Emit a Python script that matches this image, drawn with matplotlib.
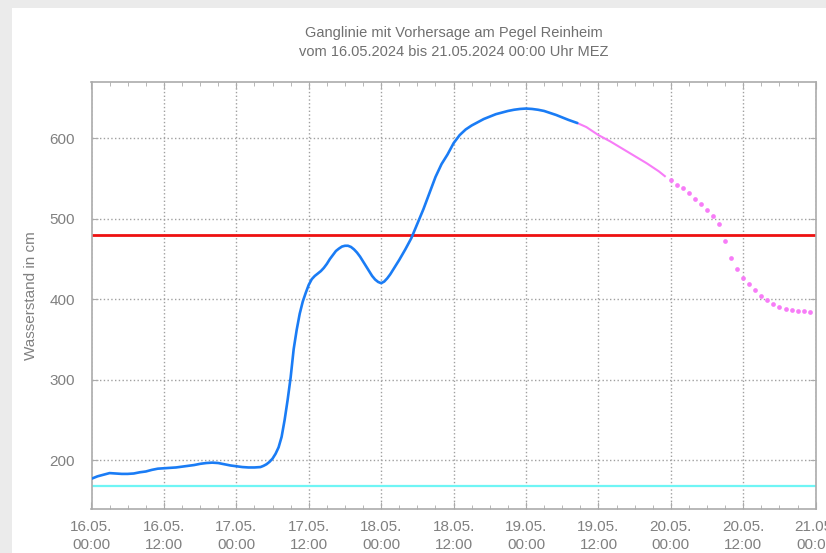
import pandas as pd
import matplotlib
matplotlib.use("Agg")
import matplotlib.pyplot as plt
import matplotlib.dates as mdates
from matplotlib.patches import Rectangle

# Measured water level (hours after 16.05.2024 00:00, cm)
obs_hours = [0, 1, 2, 3, 4, 5, 6, 7, 8, 9, 10, 11, 12, 13, 14, 15, 16, 17, 18, 19, 20,
             21, 22, 23, 24, 25, 26, 27, 28, 28.5, 29, 29.5, 30, 30.5, 31, 31.5, 32,
             32.5, 33, 33.5, 34, 34.5, 35, 35.5, 36, 36.5, 37, 37.5, 38, 38.5, 39, 39.5,
             40, 40.5, 41, 41.5, 42, 42.5, 43, 43.5, 44, 44.5, 45, 45.5, 46, 46.5, 47,
             47.5, 48, 48.5, 49, 49.5, 50, 51, 52, 53, 54, 55, 56, 57, 58, 59, 60, 61,
             62, 63, 64, 65, 66, 67, 68, 69, 70, 71, 72, 73, 74, 75, 76, 77, 78, 79, 80.5]
obs_level = [177, 180, 182, 184, 183.5, 183, 183, 183.5, 185, 186, 188, 189.5, 190,
             190.5, 191, 192, 193, 194, 195.5, 196.5, 197, 196.5, 195, 193.5, 192.5,
             191.5, 191, 191, 191.5, 193, 195, 198, 202, 208, 216, 229, 250, 275, 303,
             338, 362, 382, 397, 408, 418, 425, 429, 432, 435, 439, 444, 450, 455, 460,
             463, 465.5, 466.5, 466.5, 465, 462, 458, 453, 447, 441, 435, 429, 424.5,
             421.5, 420, 422, 426, 431, 437, 449, 462, 476, 494, 512, 532, 552, 568,
             580, 594, 604, 611, 616, 620, 624, 627, 630, 632, 634, 635.5, 636.5, 637,
             636.5, 635.5, 634, 631.5, 629, 626, 623, 619]

# Forecast, first part drawn as a line
fc_hours = [80.5, 82, 84, 86, 88, 90, 92, 94, 95]
fc_level = [619, 614, 604, 596, 587, 578, 569, 559, 553]

# Forecast, hourly points further out
fc_pt_hours = list(range(96, 120))
fc_pt_level = [548, 542, 538, 532, 524, 518, 511, 503.5, 493.5, 473, 451, 437,
               426, 419, 412, 404, 399, 394, 391, 388, 387, 386, 385, 384]

# Reference levels
level_red = 480
level_cyan = 168

start = pd.Timestamp("2024-05-16 00:00")
end = pd.Timestamp("2024-05-21 00:00")


def to_time(hours):
    return start + pd.to_timedelta(hours, unit="h")


plt.rcParams["font.family"] = ["Liberation Sans", "DejaVu Sans"]

text_grey = "#808080"
frame_grey = "#ababab"

fig = plt.figure(figsize=(8.26, 5.53), dpi=100)
fig.patch.set_facecolor("white")
# light border strips along the top and left edge
fig.patches.append(Rectangle((0, 0), 12 / 826, 1, transform=fig.transFigure,
                             facecolor="#ebebeb", edgecolor="none", zorder=0))
fig.patches.append(Rectangle((0, 1 - 8 / 553), 1, 8 / 553, transform=fig.transFigure,
                             facecolor="#ebebeb", edgecolor="none", zorder=0))

ax = fig.add_axes([91.5 / 826, 1 - 508.5 / 553, (815.7 - 91.5) / 826, (508.5 - 82) / 553])

ax.axhline(level_cyan, color="#6ff5f5", lw=1.6, zorder=2)
ax.axhline(level_red, color="#ee1111", lw=2.0, zorder=2)

ax.plot(to_time(obs_hours), obs_level, color="#1a7cf5", lw=1.9, zorder=4,
        solid_capstyle="round", solid_joinstyle="round")
ax.plot(to_time(fc_hours), fc_level, color="#f77cf7", lw=1.5, zorder=3)
ax.plot(to_time(fc_pt_hours), fc_pt_level, ls="none", marker="o", ms=3.4,
        color="#f77cf7", mec="none", zorder=3)

ax.set_xlim(start, end)
ax.set_ylim(140, 670)
ax.set_yticks([200, 300, 400, 500, 600])
ax.xaxis.set_major_locator(mdates.HourLocator(byhour=[0, 12]))
ax.xaxis.set_minor_locator(mdates.HourLocator(interval=3))
ax.xaxis.set_major_formatter(mdates.DateFormatter("%d.%m.\n%H:%M"))

ax.grid(True, which="major", color="#a0a0a0", lw=1.0, ls=(0, (1, 1.7)))
ax.tick_params(axis="both", which="both", direction="in", colors=frame_grey,
               labelcolor=text_grey, labelsize=11, top=True, right=True)
ax.tick_params(axis="x", which="major", length=5, pad=8)
ax.tick_params(axis="x", which="minor", length=3)
ax.tick_params(axis="y", length=4, pad=12)
for sp in ax.spines.values():
    sp.set_color(frame_grey)
    sp.set_linewidth(1.2)

ax.set_ylabel("Wasserstand in cm", color=text_grey, fontsize=11, labelpad=8)
fig.text(0.549, 1 - 33 / 553, "Ganglinie mit Vorhersage am Pegel Reinheim",
         ha="center", va="center", color="#707070", fontsize=10.5)
fig.text(0.549, 1 - 52 / 553, "vom 16.05.2024 bis 21.05.2024 00:00 Uhr MEZ",
         ha="center", va="center", color="#707070", fontsize=10.5)

# wider gap between date and time in the x labels
fig.canvas.draw()
for lab in ax.get_xticklabels():
    lab.set_linespacing(1.42)

fig.savefig("out.png", dpi=100)
